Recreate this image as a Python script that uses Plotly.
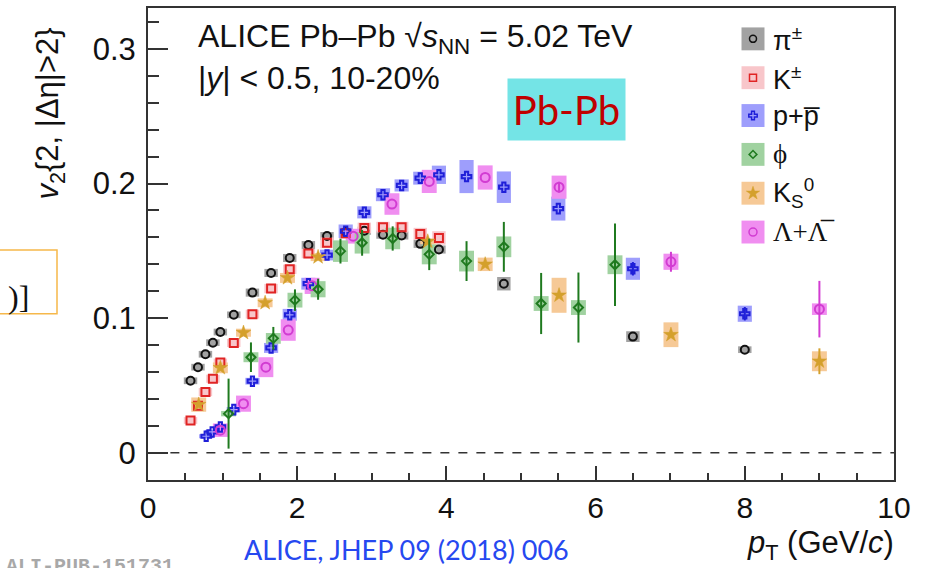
import plotly.graph_objects as go

# ---------------- data ----------------
pi_x = [0.57, 0.67, 0.77, 0.87, 0.97, 1.15, 1.4, 1.65, 1.9, 2.15, 2.4, 2.65, 2.9, 3.15, 3.4, 3.65, 3.9, 4.77, 6.5, 8.0]
pi_y = [0.0535, 0.0636, 0.0732, 0.0818, 0.0897, 0.1025, 0.119, 0.1336, 0.1447, 0.1543, 0.161, 0.164, 0.165, 0.162, 0.1614, 0.1552, 0.151, 0.1256, 0.0863, 0.0766]
pi_sys = [0.0025, 0.0025, 0.0025, 0.0025, 0.0025, 0.0025, 0.003, 0.003, 0.003, 0.003, 0.003, 0.003, 0.003, 0.003, 0.003, 0.003, 0.003, 0.005, 0.004, 0.0025]

k_x = [0.57, 0.67, 0.77, 0.87, 0.97, 1.15, 1.4, 1.65, 1.9, 2.15, 2.4, 2.65, 2.9, 3.15, 3.4, 3.65, 3.9]
k_y = [0.024, 0.035, 0.0451, 0.055, 0.067, 0.0816, 0.103, 0.122, 0.1363, 0.148, 0.156, 0.163, 0.167, 0.1676, 0.1676, 0.1626, 0.1596]
k_sys = [0.0025, 0.003, 0.003, 0.003, 0.003, 0.003, 0.0033, 0.0035, 0.0035, 0.0035, 0.004, 0.004, 0.004, 0.004, 0.004, 0.0045, 0.005]

p_x = [0.78, 0.86, 0.97, 1.15, 1.4, 1.65, 1.9, 2.15, 2.4, 2.65, 2.9, 3.15, 3.4, 3.65, 3.9, 4.27, 4.77, 5.5, 6.5, 8.0]
p_y = [0.0123, 0.0155, 0.0192, 0.0321, 0.0532, 0.0779, 0.1025, 0.1256, 0.1469, 0.1646, 0.1786, 0.1917, 0.1986, 0.204, 0.2065, 0.2052, 0.1973, 0.1814, 0.1367, 0.1033]
p_sys = [0.0015, 0.0015, 0.002, 0.002, 0.0025, 0.0037, 0.0044, 0.0044, 0.004, 0.005, 0.0045, 0.0048, 0.0045, 0.0048, 0.0068, 0.0123, 0.0117, 0.0089, 0.0082, 0.006]
p_stat = [0, 0, 0, 0, 0, 0, 0, 0, 0, 0, 0, 0, 0, 0, 0, 0, 0, 0, 0.005, 0.005]

phi_x = [1.08, 1.38, 1.68, 1.97, 2.28, 2.58, 2.87, 3.28, 3.77, 4.27, 4.77, 5.27, 5.77, 6.26]
phi_y = [0.0291, 0.071, 0.085, 0.1134, 0.1215, 0.1498, 0.156, 0.1592, 0.1474, 0.1424, 0.153, 0.1109, 0.1079, 0.1397]
phi_sys = [0.002, 0.0037, 0.004, 0.0055, 0.006, 0.008, 0.008, 0.008, 0.0074, 0.0077, 0.0077, 0.0055, 0.0055, 0.007]
phi_stat = [0.026, 0.011, 0.0085, 0.008, 0.0078, 0.0092, 0.0096, 0.009, 0.0117, 0.0148, 0.0185, 0.0227, 0.026, 0.0306]

k0_x = [0.68, 0.97, 1.28, 1.57, 1.87, 2.28, 3.75, 4.52, 5.51, 7.01, 9.0]
k0_y = [0.0358, 0.0631, 0.0892, 0.1114, 0.1299, 0.1454, 0.157, 0.14, 0.117, 0.0877, 0.068]
k0_sys = [0.0053, 0.004, 0.003, 0.0033, 0.0037, 0.003, 0.002, 0.005, 0.013, 0.0092, 0.0074]
k0_stat = [0, 0, 0, 0, 0, 0, 0, 0, 0, 0, 0.0096]

lam_x = [0.97, 1.28, 1.58, 1.88, 2.2, 2.75, 3.27, 3.77, 4.52, 5.51, 7.01, 9.0]
lam_y = [0.0168, 0.0365, 0.0636, 0.0912, 0.124, 0.1609, 0.1848, 0.2016, 0.2045, 0.1973, 0.1419, 0.1067]
lam_sys = [0.005, 0.006, 0.0074, 0.008, 0.006, 0.0055, 0.008, 0.0086, 0.009, 0.0086, 0.006, 0.0043]
lam_stat = [0, 0, 0, 0, 0, 0, 0, 0, 0, 0.004, 0.0074, 0.021]

legend_labels = ["π<sup>±</sup>", "K<sup>±</sup>", "p+p\u0305", "<span style='font-family:Liberation Serif'>\u03d5</span>",
                 "K<sub>S</sub><sup>0</sup>", "<span style='font-family:Liberation Serif'>Λ+Λ\u0305</span>"]

x_ticks = [0, 2, 4, 6, 8, 10]

# ---------------- styles ----------------
W, H = 927, 568
ML, MR, MT, MB = 148, 33, 6, 88
PW, PH = W - ML - MR, H - MT - MB


def px(x):
    return (x - ML) / PW


def py(y):
    return (H - MB - y) / PH


series = [
    # name, x, y, sys, stat, box color, marker symbol, marker color, size, box width
    ("pi", pi_x, pi_y, pi_sys, None, "#a2a2a2", "circle-open", "#111111", 8, 0.18),
    ("k", k_x, k_y, k_sys, None, "#f8c6ca", "square-open", "#e02424", 8, 0.18),
    ("p", p_x, p_y, p_sys, p_stat, "#9e9efc", "cross-open", "#1f1fd8", 8, 0.19),
    ("lam", lam_x, lam_y, lam_sys, lam_stat, "#f08ef0", "circle-open", "#d23cd2", 9, 0.2),
    ("k0", k0_x, k0_y, k0_sys, k0_stat, "#f6c996", "star", "#d4a02c", 11, 0.2),
    ("phi", phi_x, phi_y, phi_sys, phi_stat, "#a0d2a0", "diamond-open", "#1f7a1f", 7, 0.2),
]

fig = go.Figure()

# zero dashed line
fig.add_trace(go.Scatter(x=[0.3, 10], y=[0, 0], mode="lines",
                         line=dict(color="#333333", width=1.5, dash="dash"),
                         showlegend=False, hoverinfo="skip"))

for name, xs, ys, sy, st, bc, sym, mc, ms, bw in series:
    fig.add_trace(go.Bar(x=xs, y=[2 * s for s in sy], base=[v - s for v, s in zip(ys, sy)],
                         width=bw, marker=dict(color=bc, line=dict(width=0)),
                         showlegend=False, hoverinfo="skip"))

for name, xs, ys, sy, st, bc, sym, mc, ms, bw in series:
    err = None
    if st is not None:
        err = dict(type="data", array=st, visible=True, color=mc, thickness=2, width=0)
    fig.add_trace(go.Scatter(x=xs, y=ys, mode="markers",
                             marker=dict(symbol=sym, size=ms, color=mc,
                                         line=dict(width=2 if sym != "star" else 0.5, color=mc)),
                             error_y=err, showlegend=False))

# legend markers on a pixel-space overlay axis
leg_y = [37, 76, 114, 153, 192, 231]
leg_x = 753
leg_series = [series[0], series[1], series[2], series[5], series[4], series[3]]
for (name, xs, ys, sy, st, bc, sym, mc, ms, bw), ly, lab in zip(leg_series, leg_y, legend_labels):
    fig.add_shape(type="rect", xref="x2", yref="y2", x0=leg_x - 11.5, x1=leg_x + 11.5,
                  y0=ly - 11.5, y1=ly + 11.5, fillcolor=bc, line=dict(width=0), layer="below")
    fig.add_trace(go.Scatter(x=[leg_x], y=[ly], xaxis="x2", yaxis="y2", mode="markers",
                             marker=dict(symbol=sym, size=ms - 1, color=mc,
                                         line=dict(width=1.5 if sym != "star" else 0.5, color=mc)),
                             showlegend=False, hoverinfo="skip"))
    fig.add_annotation(x=px(771), y=py(ly), xref="paper", yref="paper", xanchor="left",
                       yanchor="middle", text=lab, showarrow=False,
                       font=dict(family="Liberation Sans", size=27, color="#111111"))

annots = [
    dict(x=px(196), y=py(37), text="ALICE Pb–Pb √<i>s</i><sub>NN</sub> = 5.02 TeV", xanchor="left",
         font=dict(family="Liberation Sans", size=32, color="#111111")),
    dict(x=px(196), y=py(76), text="|<i>y</i>| &lt; 0.5, 10-20%", xanchor="left",
         font=dict(family="Liberation Sans", size=32, color="#111111")),
    dict(x=px(896), y=py(545), text="<i>p</i><sub>T</sub> (GeV/<i>c</i>)", xanchor="right",
         font=dict(family="Liberation Sans", size=31, color="#111111")),
    dict(x=px(50), y=py(112), text="<i>v</i><sub>2</sub>{2, |Δη|&gt;2}", textangle=-90,
         font=dict(family="Liberation Sans", size=31, color="#111111")),
    dict(x=px(406), y=py(550), text="ALICE, JHEP 09 (2018) 006",
         font=dict(family="Lato", size=27, color="#2648f0")),
    dict(x=px(90), y=py(553), text="<b>ALI-PUB-151731</b>", yanchor="top",
         font=dict(family="Liberation Mono", size=20, color="#a8a8a8")),
    dict(x=px(566), y=py(108), text="Pb-Pb", bgcolor="#74e4e6", width=115, height=59,
         font=dict(family="Lato", size=40, color="#c00000")),
    dict(x=px(18), y=py(296), text=")]",
         font=dict(family="Liberation Serif", size=32, color="#111111")),
]
for a in annots:
    a.setdefault("xanchor", "center")
    a.setdefault("yanchor", "middle")
    fig.add_annotation(xref="paper", yref="paper", showarrow=False, **a)

fig.add_shape(type="rect", xref="paper", yref="paper", x0=px(-5), x1=px(57), y0=py(249), y1=py(313),
              line=dict(color="#f6b84a", width=1.5), fillcolor="rgba(0,0,0,0)")

fig.update_layout(
    width=W, height=H, margin=dict(l=ML, r=MR, t=MT, b=MB),
    paper_bgcolor="white", plot_bgcolor="white", barmode="overlay", showlegend=False,
    xaxis=dict(range=[0, 10], tickvals=x_ticks, showline=True, linecolor="#333333", linewidth=2,
               mirror=True, ticks="inside", ticklen=14, tickwidth=1.5, tickcolor="#333333",
               minor=dict(ticks="inside", ticklen=7, dtick=0.5, tickcolor="#333333", tickwidth=1.5),
               showgrid=False, zeroline=False,
               tickfont=dict(family="Liberation Sans", size=30, color="#111111")),
    yaxis=dict(range=[-0.0202, 0.3304], dtick=0.1, tick0=0, showline=True, linecolor="#333333",
               linewidth=2, mirror=True, ticks="inside", ticklen=20, tickwidth=1.5, tickcolor="#333333",
               minor=dict(ticks="inside", ticklen=11, dtick=0.02, tickcolor="#333333", tickwidth=1.5),
               showgrid=False, zeroline=False, ticklabelstandoff=4,
               tickfont=dict(family="Liberation Sans", size=31, color="#111111")),
    xaxis2=dict(overlaying="x", range=[ML, W - MR], visible=False, fixedrange=True),
    yaxis2=dict(overlaying="y", range=[H - MB, MT], visible=False, fixedrange=True),
)

fig.write_html("out.html")
